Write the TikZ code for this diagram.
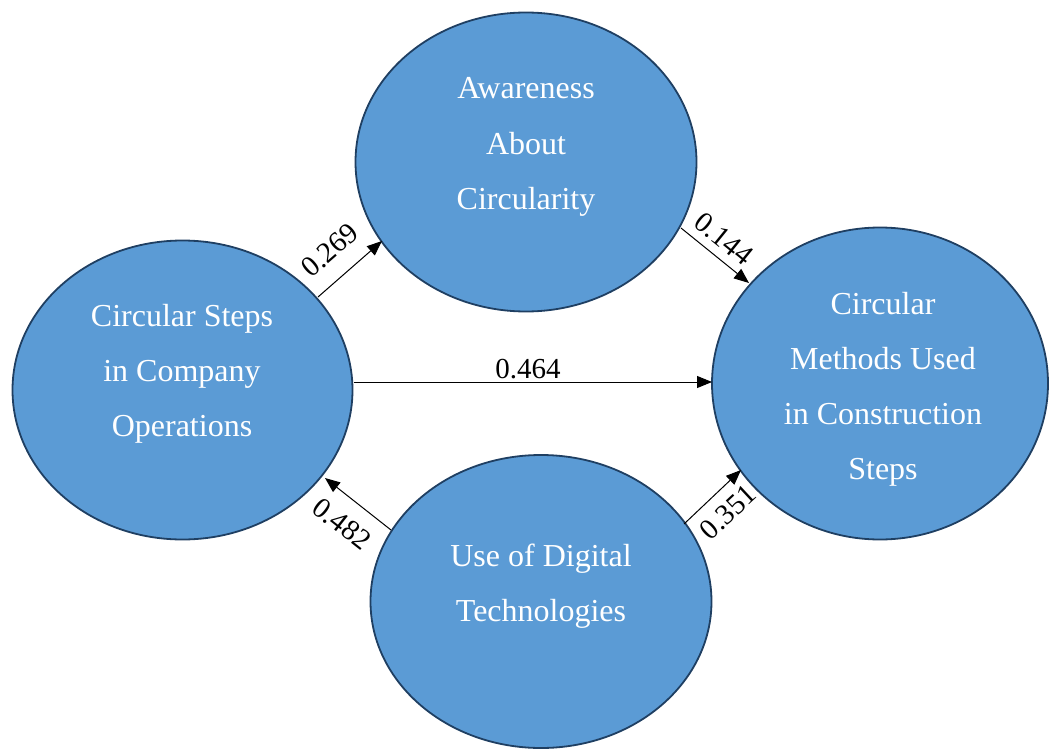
\documentclass[tikz,border=0pt]{standalone}
\usepackage{fontspec}
\setmainfont{Liberation Serif}
\usetikzlibrary{shapes.geometric,arrows.meta}
\definecolor{bubblefill}{HTML}{5B9BD5}
\definecolor{bubbleedge}{HTML}{1F3F62}
\begin{document}
\begin{tikzpicture}[x=1pt,y=-1pt,
  bubble/.style={ellipse,draw=bubbleedge,fill=bubblefill,line width=1.8pt,inner sep=0pt},
  txt/.style={text=white,font=\fontsize{32}{55}\selectfont,anchor=base,inner sep=0pt},
  path/.style={draw=black,line width=1pt,-{Triangle[length=15pt,width=12pt]}},
  coef/.style={font=\fontsize{29}{30}\selectfont,inner sep=0pt}]
\useasboundingbox (0,0) rectangle (1049,749);

% constructs
\node[bubble,minimum width=341pt,minimum height=299pt] (aware) at (526,162) {};
\node[bubble,minimum width=340pt,minimum height=299pt] (steps) at (182.5,390) {};
\node[bubble,minimum width=336pt,minimum height=312pt] (methods) at (880,383.5) {};
\node[bubble,minimum width=341pt,minimum height=293pt] (digital) at (541,601.5) {};

% construct labels
\node[txt] (aw1) at (526,99) {Awareness};
\node[txt] (aw2) at (526,154) {About};
\node[txt] (aw3) at (526,209) {Circularity};
\node[txt] (st1) at (182,326) {Circular Steps};
\node[txt] (st2) at (182,381) {in Company};
\node[txt] (st3) at (182,436) {Operations};
\node[txt] (me1) at (883,314) {Circular};
\node[txt] (me2) at (883,369) {Methods Used};
\node[txt] (me3) at (883,424) {in Construction};
\node[txt] (me4) at (883,479) {Steps};
\node[txt] (di1) at (541,566) {Use of Digital};
\node[txt] (di2) at (541,621) {Technologies};

% path anchors on the ellipse borders
\coordinate (s1) at (318,297); \coordinate (t1) at (382,241);
\coordinate (s2) at (681,228); \coordinate (t2) at (749,283);
\coordinate (s3) at (353.5,382); \coordinate (t3) at (712,382);
\coordinate (s4) at (391,530); \coordinate (t4) at (325,478);
\coordinate (s5) at (684,524); \coordinate (t5) at (741,470);

% structural paths
\draw[path] (s1) -- (t1);
\draw[path] (s2) -- (t2);
\draw[path] (s3) -- (t3);
\draw[path] (s4) -- (t4);
\draw[path] (s5) -- (t5);

% path coefficients
\node[coef,rotate=41] (c1) at (330,250) {0.269};
\node[coef,rotate=-39] (c2) at (724,239) {0.144};
\node[coef] (c3) at (528,369) {0.464};
\node[coef,rotate=-38] (c4) at (342,524) {0.482};
\node[coef,rotate=43] (c5) at (728,512) {0.351};
\end{tikzpicture}
\end{document}
